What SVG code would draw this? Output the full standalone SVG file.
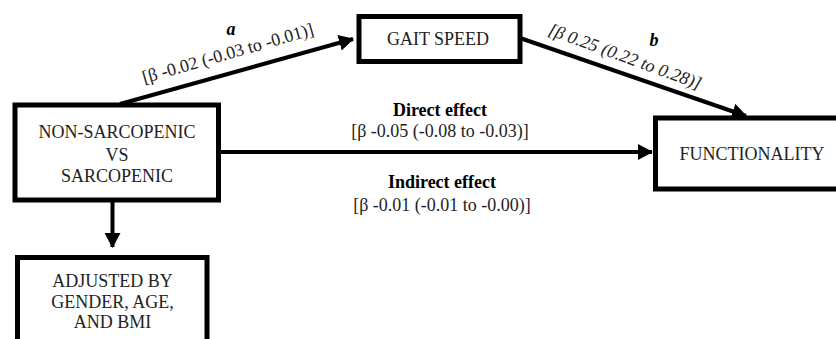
<svg xmlns="http://www.w3.org/2000/svg" width="836" height="339" viewBox="0 0 836 339">
<style>
.box{fill:#fff;stroke:#000;stroke-width:5}
text{font-family:'Liberation Serif','Times New Roman',Tinos,'DejaVu Serif',serif;font-size:18px;fill:#222;text-anchor:middle}
.b{font-weight:bold;fill:#000}
.bi{font-weight:bold;font-style:italic;fill:#000}
.i{font-style:italic}
.c{stroke:#000;stroke-width:4;fill:none}
</style>
<defs>
<marker id="ah" markerUnits="userSpaceOnUse" markerWidth="16" markerHeight="18" refX="14" refY="8" orient="auto">
<path d="M0,0 L15,8 L0,16 Z" fill="#000"/>
</marker>
</defs>
<rect width="836" height="339" fill="#fff"/>
<g id="connectors" font-family="Liberation Serif, serif">
<line class="c" x1="120" y1="104" x2="353" y2="39" marker-end="url(#ah)"/>
<line class="c" x1="520" y1="38" x2="746" y2="116" marker-end="url(#ah)"/>
<line class="c" x1="218" y1="152" x2="652" y2="152" marker-end="url(#ah)"/>
<line class="c" x1="112.5" y1="200" x2="112.5" y2="247" marker-end="url(#ah)"/>
<text class="bi" x="231" y="35">a</text>
<text transform="translate(229.5,59) rotate(-16)">[β -0.02 (-0.03 to -0.01)]</text>
<text class="bi" x="654" y="46">b</text>
<text class="i" transform="translate(623,62) rotate(20)">[β 0.25 (0.22 to 0.28)]</text>
<text class="b" x="440" y="116">Direct effect</text>
<text x="440" y="137">[β -0.05 (-0.08 to -0.03)]</text>
<text class="b" x="442" y="188">Indirect effect</text>
<text x="442" y="211">[β -0.01 (-0.01 to -0.00)]</text>
</g>
<g id="node-source">
<rect class="box" x="15" y="105" width="203.5" height="95"/>
<text x="117" y="138">NON-SARCOPENIC</text>
<text x="117" y="161">VS</text>
<text x="117" y="182">SARCOPENIC</text>
</g>
<g id="node-gait">
<rect class="box" x="359" y="16.5" width="161" height="45"/>
<text x="438" y="45">GAIT SPEED</text>
</g>
<g id="node-functionality">
<rect class="box" x="655.5" y="118" width="200" height="71"/>
<text x="752" y="160">FUNCTIONALITY</text>
</g>
<g id="node-adjusted">
<rect class="box" x="17.5" y="257.5" width="189.5" height="100"/>
<text x="112.5" y="287">ADJUSTED BY</text>
<text x="112.5" y="308">GENDER, AGE,</text>
<text x="112.5" y="328">AND BMI</text>
</g>
</svg>
